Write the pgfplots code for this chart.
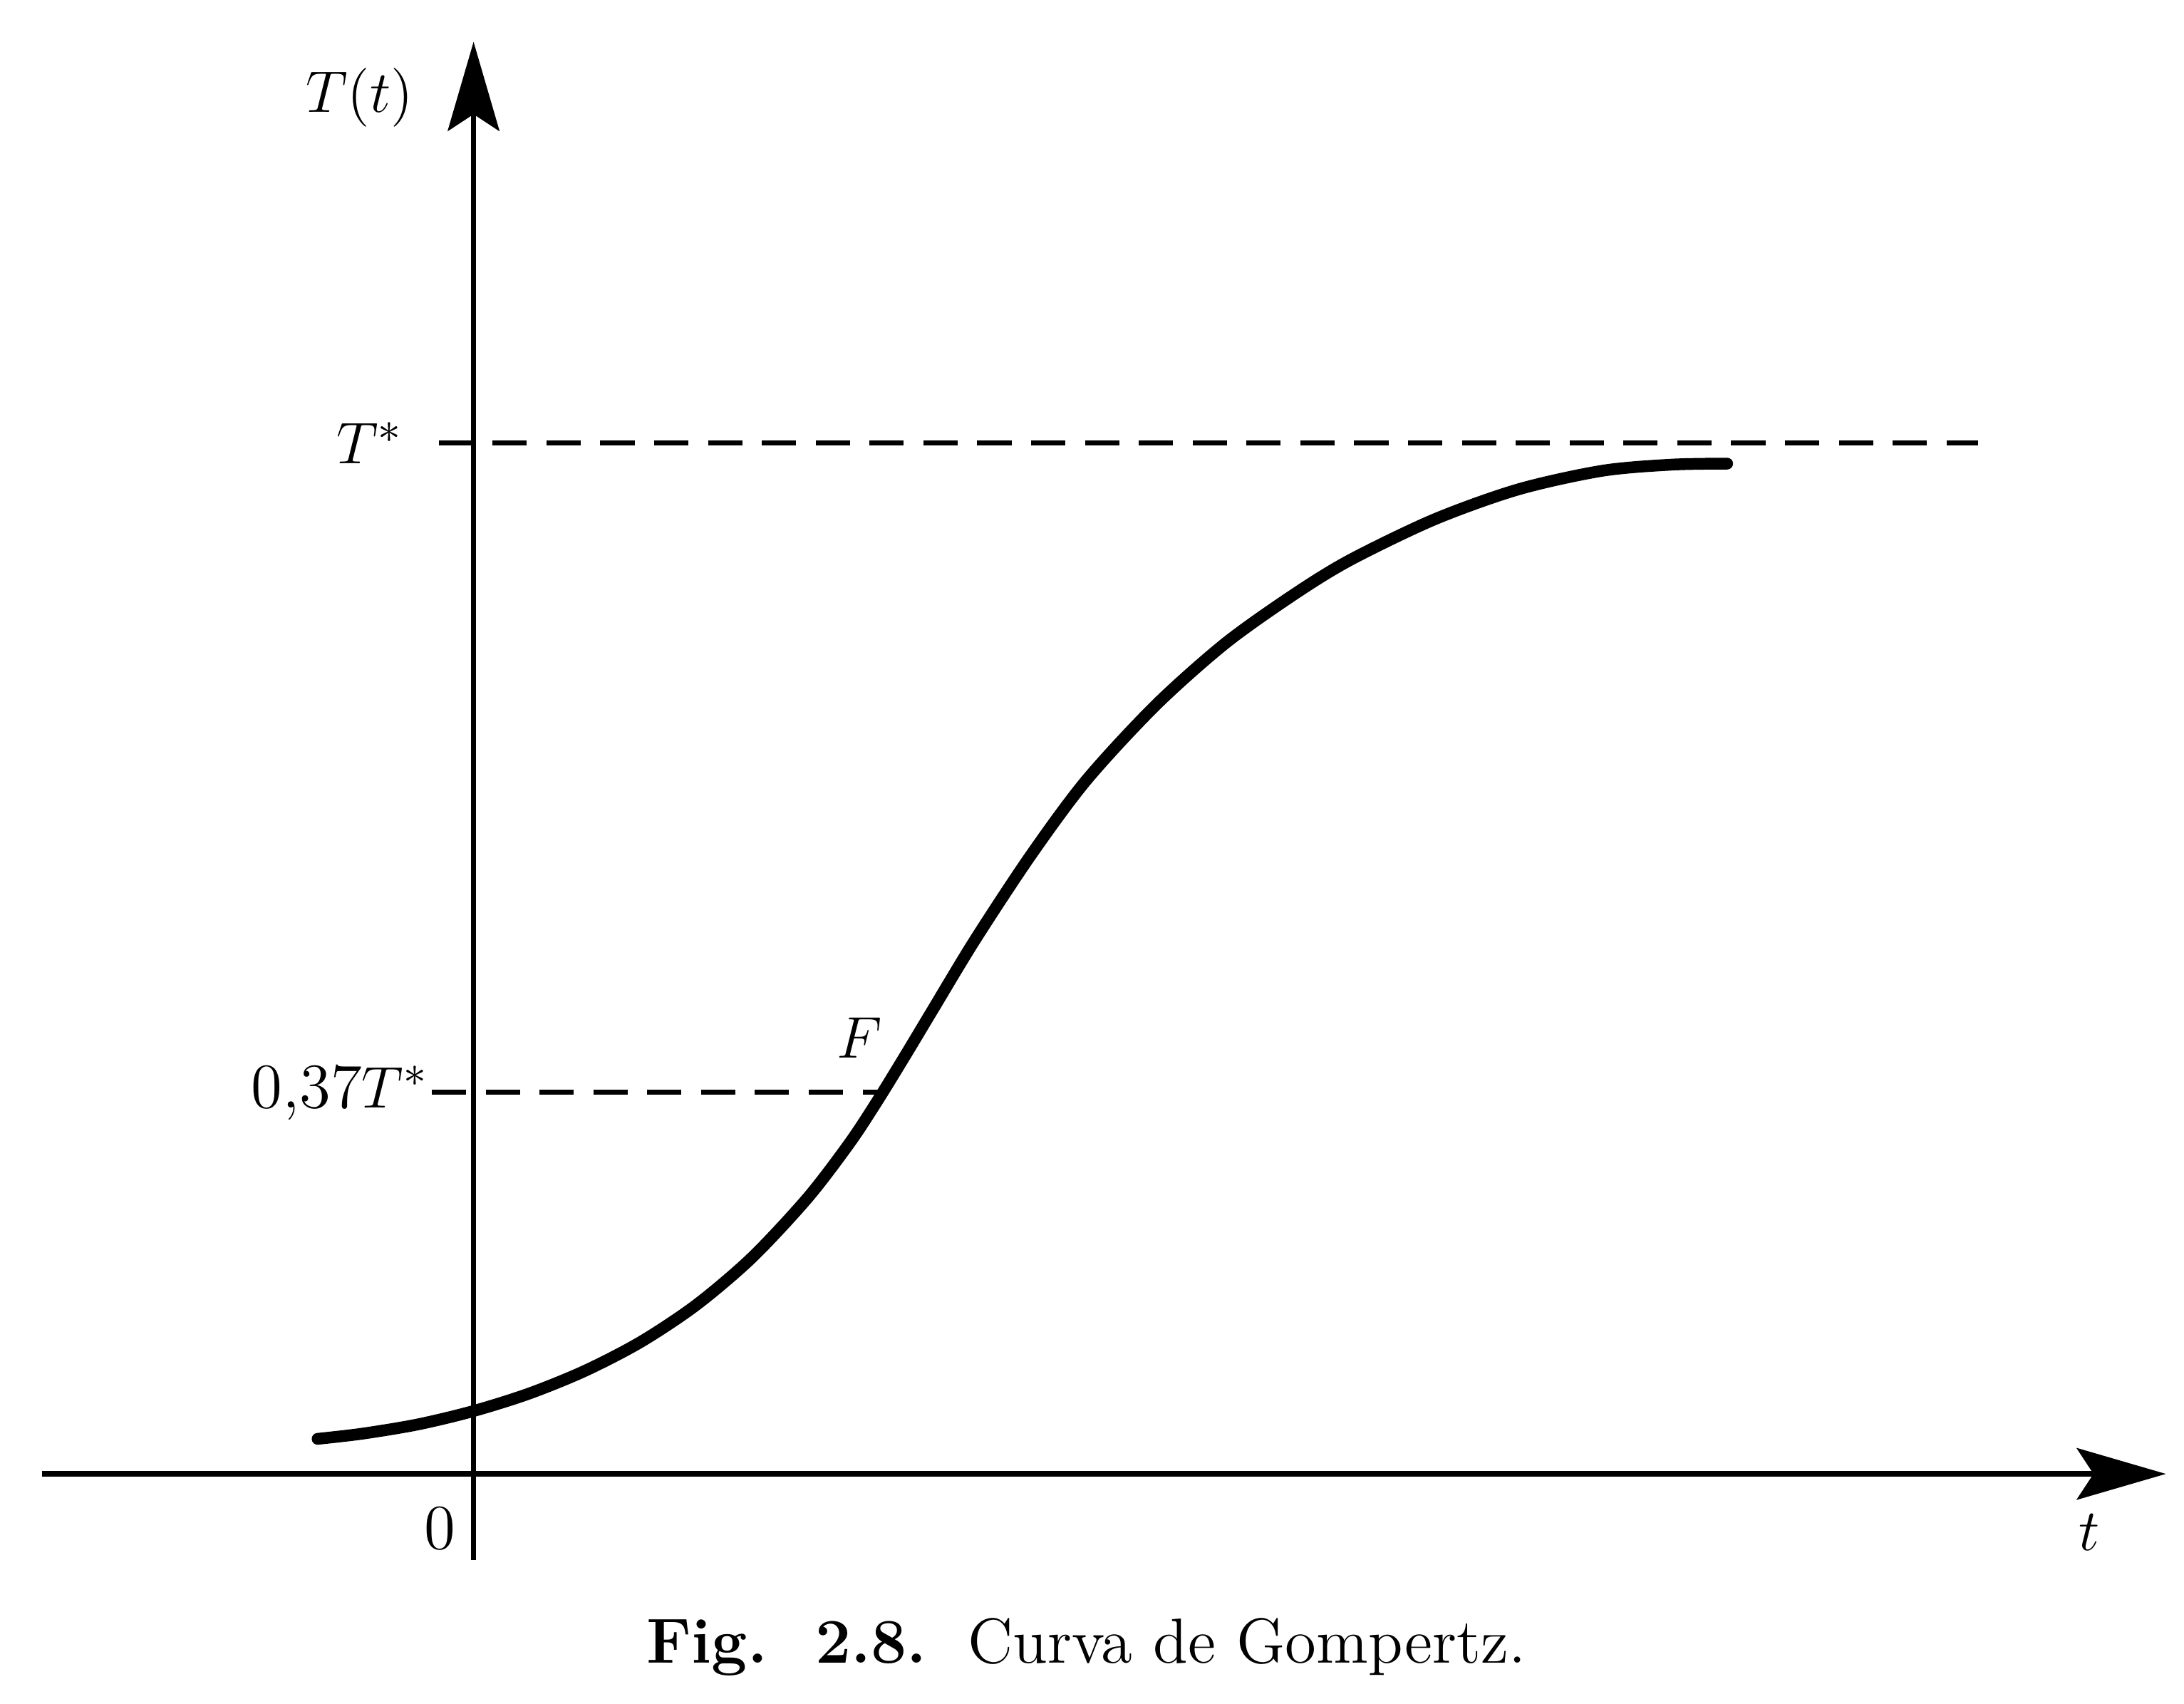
\documentclass[border=0pt]{standalone}
\usepackage{pgfplots}
\pgfplotsset{compat=1.18}
\usetikzlibrary{arrows.meta}
\begin{document}
\begin{tikzpicture}
\begin{axis}[
  scale only axis,
  width=15.25cm, height=10.9cm,
  xmin=-310, xmax=1215,
  ymin=-0.08378, ymax=1.38919,
  axis lines=middle,
  axis line style={line width=1.1pt, -{Stealth[length=6.4mm,width=3.7mm,inset=1.2mm]}},
  xtick=\empty, ytick=\empty,
  clip=false,
  font=\fontsize{13}{15}\selectfont,
]
% bounding box of the whole figure
\path (axis cs:-340,-0.22297) rectangle (axis cs:1228,1.42973);
% dashed reference lines
\addplot[black, line width=1.0pt, dash pattern=on 7pt off 4pt] coordinates {(-25,1.0) (1080,1.0)};
\addplot[black, line width=1.0pt, dash pattern=on 7pt off 4pt] coordinates {(-30,0.37) (290,0.37)};
% Gompertz curve
\addplot[black, line width=2.4pt, smooth, line cap=round] coordinates {
(-112,0.034) (-80,0.039) (-40,0.048) (0,0.061) (40,0.078) (80,0.100)
(120,0.128) (160,0.164) (200,0.210) (240,0.268) (270,0.321) (290,0.362)
(310,0.406) (330,0.451) (360,0.518) (400,0.600) (440,0.673) (490,0.746)
(540,0.806) (590,0.854) (630,0.887) (690,0.926) (750,0.955) (810,0.973)
(860,0.979) (900,0.980)
};
\node at (axis cs:-82,1.335) {$T(t)$};
\node[anchor=east] at (axis cs:-38,1.0) {$T^{*}$};
\node[anchor=east, inner sep=1pt] at (axis cs:-28,0.37) {0,37$T^{*}$};
\node at (axis cs:277,0.423) {$F$};
\node at (axis cs:-24,-0.0527) {0};
\node at (axis cs:1160,-0.0568) {$t$};
\node at (axis cs:440,-0.1676) {\textbf{Fig.\ \ 2.8.}\ \ Curva de Gompertz.};
\end{axis}
\end{tikzpicture}
\end{document}
